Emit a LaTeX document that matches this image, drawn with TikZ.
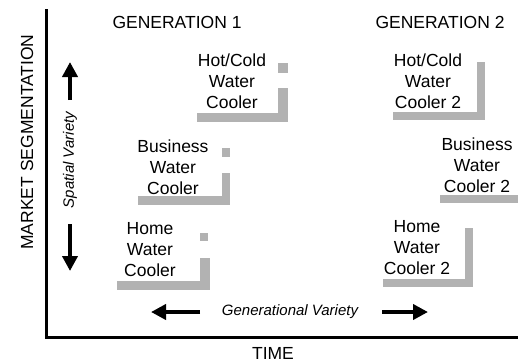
\documentclass[tikz,border=0pt]{standalone}
\usepackage{fontspec}
\setmainfont{Liberation Sans}
\usetikzlibrary{arrows.meta}
\tikzset{
	lbl/.style={font=\fontsize{17.5}{21}\selectfont, align=center, inner sep=0pt},
	var/.style={font=\fontsize{15}{18}\selectfont\itshape, inner sep=0pt},
	shade/.style={fill=gray!60, draw=none},
	bigarrow/.style={-{Triangle[length=15pt,width=15pt]}, line width=4.5pt},
}
\begin{document}
\begin{tikzpicture}[x=1pt,y=-1pt]
	\useasboundingbox (0,0) rectangle (518,362);
	% axes
	\draw[line width=3pt] (46,9) -- (46,337) -- (518,337);
	\node[lbl] (time) at (273,353) {TIME};
	\node[lbl,rotate=90] (market) at (27,142) {MARKET SEGMENTATION};
	\node[lbl] (gen1) at (177,22) {GENERATION 1};
	\node[lbl] (gen2) at (440,22) {GENERATION 2};
	% spatial variety
	\node[var,rotate=90] (spatial) at (70,160) {Spatial Variety};
	\coordinate (upA) at (70,100);
	\coordinate (upB) at (70,62);
	\coordinate (dnA) at (70,224);
	\coordinate (dnB) at (70,271);
	\draw[bigarrow] (upA) -- (upB);
	\draw[bigarrow] (dnA) -- (dnB);
	% generational variety
	\node[var] (generational) at (290,312) {Generational Variety};
	\coordinate (ltA) at (200,312);
	\coordinate (ltB) at (151,312);
	\coordinate (rtA) at (382,312);
	\coordinate (rtB) at (428,312);
	\draw[bigarrow] (ltA) -- (ltB);
	\draw[bigarrow] (rtA) -- (rtB);
	% generation 1 shadows
	\fill[shade] (197,113) rectangle (288,122);
	\fill[shade] (278,88) rectangle (288,122);
	\fill[shade] (278,63) rectangle (288,73);
	\fill[shade] (138,196) rectangle (230,205);
	\fill[shade] (222,173) rectangle (230,205);
	\fill[shade] (222,148) rectangle (230,157);
	\fill[shade] (117,281) rectangle (210,290);
	\fill[shade] (200,258) rectangle (210,290);
	\fill[shade] (200,233) rectangle (208,241);
	% generation 2 shadows
	\fill[shade] (393,112) rectangle (485,120);
	\fill[shade] (477,62) rectangle (485,120);
	\fill[shade] (440,195) rectangle (518,203);
	\fill[shade] (383,279) rectangle (473,287);
	\fill[shade] (465,228) rectangle (473,287);
	% coolers
	\node[lbl] (hot1) at (232,81) {Hot/Cold\\Water\\Cooler};
	\node[lbl] (bus1) at (173,167) {Business\\Water\\Cooler};
	\node[lbl] (home1) at (150,250) {Home\\Water\\Cooler};
	\node[lbl] (hot2) at (428,81) {Hot/Cold\\Water\\Cooler 2};
	\node[lbl] (bus2) at (477,165) {Business\\Water\\Cooler 2};
	\node[lbl] (home2) at (417,248) {Home\\Water\\Cooler 2};
\end{tikzpicture}
\end{document}
